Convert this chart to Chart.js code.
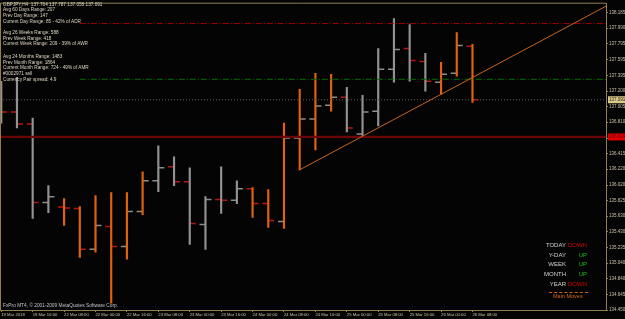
<!DOCTYPE html>
<html>
<head>
<meta charset="utf-8">
<script src="https://cdn.jsdelivr.net/npm/chart.js@4.4.1/dist/chart.umd.min.js"></script>
<style>
body { margin: 0; background: #050405; }
#wrap { position: relative; width: 625px; height: 319px; overflow: hidden; }
.t { position: absolute; font-family: "Liberation Sans", Arial, sans-serif; white-space: nowrap; line-height: 1; }
.info { left: 3px; font-size: 4.7px; color: #ddd6c0; }
.lbl { right: 59px; font-size: 6px; color: #d4d4d4; text-align: right; }
.val { right: 38px; font-size: 6px; text-align: right; }
.dn { color: #d40000; }
.up { color: #10c010; }
</style>
</head>
<body>
<div id="wrap">
  <canvas id="chart" width="625" height="319"></canvas>

  <div class="t info" style="top:2.7px">GBPJPY,H4&nbsp; 137.764 137.787 137.058 137.091</div>
  <div class="t info" style="top:8.2px">Avg 60 Days Range: 207</div>
  <div class="t info" style="top:13.7px">Prev Day Range: 147</div>
  <div class="t info" style="top:19.7px">Current Day Range: 85 - 42% of ADR</div>
  <div class="t info" style="top:30.7px">Avg 26 Weeks Range: 588</div>
  <div class="t info" style="top:36.7px">Prev Week Range: 418</div>
  <div class="t info" style="top:42.2px">Current Week Range: 209 - 39% of AWR</div>
  <div class="t info" style="top:54.7px">Avg 24 Months Range: 1483</div>
  <div class="t info" style="top:60.7px">Prev Month Range: 1864</div>
  <div class="t info" style="top:66.2px">Current Month Range: 724 - 49% of AMR</div>
  <div class="t info" style="top:72.2px">#0002971 sell</div>
  <div class="t info" style="top:78.2px">Currency Pair spread: 4.9</div>

  <div class="t lbl" style="top:242.1px">TODAY</div>
  <div class="t val dn" style="top:242.1px">DOWN</div>
  <div class="t lbl" style="top:251.6px">Y-DAY</div>
  <div class="t val up" style="top:251.6px">UP</div>
  <div class="t lbl" style="top:261.1px">WEEK</div>
  <div class="t val up" style="top:261.1px">UP</div>
  <div class="t lbl" style="top:271.1px">MONTH</div>
  <div class="t val up" style="top:271.1px">UP</div>
  <div class="t lbl" style="top:280.6px">YEAR</div>
  <div class="t val dn" style="top:280.6px">DOWN</div>
  <div style="position:absolute; left:549px; top:292px; width:39px; border-top:1px dashed #c8641e;"></div>
  <div class="t" style="left:553px; top:294.3px; font-size:5.5px; color:#d06818;">Main Moves</div>

  <div class="t" style="left:3px; top:303.7px; font-size:4.8px; color:#c4c4c4;">FxPro MT4, © 2001-2009 MetaQuotes Software Corp.</div>
</div>

<script>
// GBPJPY H4 bars
const timeLabels = ['19 Mar 2018', '19 Mar 16:00', '22 Mar 08:00', '22 Mar 00:00', '22 Mar 16:00', '23 Mar 08:00',
    '23 Mar 00:00', '23 Mar 16:00', '24 Mar 00:00', '24 Mar 08:00', '24 Mar 16:00', '25 Mar 00:00',
    '25 Mar 08:00', '25 Mar 16:00', '26 Mar 00:00', '26 Mar 08:00'];

const barOpen  = [137.100, 136.936, 136.786, 135.799, 135.743, 135.724, 135.212, 135.499, 135.249, 135.687,
                  136.074, 136.249, 136.061, 135.524, 135.837, 135.830, 135.974, 135.787, 135.562, 136.611,
                  136.848, 137.023, 137.123, 136.661, 136.948, 137.473, 137.735, 137.573, 137.311, 137.423, 137.764];
const barHigh  = [137.323, 137.373, 136.861, 136.012, 135.849, 135.749, 135.887, 135.924, 135.924, 136.186,
                  136.511, 136.374, 136.236, 135.874, 136.249, 136.074, 135.987, 135.962, 136.798, 137.223,
                  137.423, 137.411, 137.248, 137.148, 137.735, 138.110, 138.035, 137.673, 137.561, 137.935, 137.787];
const barLow   = [136.798, 136.736, 135.599, 135.674, 135.512, 135.112, 135.175, 134.537, 135.087, 135.649,
                  135.937, 136.012, 135.274, 135.212, 135.662, 135.787, 135.612, 135.487, 135.474, 136.211,
                  136.461, 136.948, 136.686, 136.624, 136.761, 137.311, 137.323, 137.198, 137.161, 137.386, 137.058];
const barClose = [136.936, 136.786, 135.799, 135.874, 135.730, 135.212, 135.512, 135.249, 135.687, 136.074,
                  136.236, 136.061, 135.537, 135.837, 135.830, 135.974, 135.787, 135.574, 136.611, 136.848,
                  137.011, 137.123, 136.736, 136.936, 137.473, 137.723, 137.585, 137.323, 137.411, 137.773, 137.091];
// indicator state per bar (1 = orange bar, 0 = grey bar)
const barTrend = [0, 0, 0, 0, 1, 1, 1, 1, 1, 1, 0, 0, 0, 0, 0, 0, 1, 1, 1, 1, 1, 1, 0, 0, 0, 0, 0, 0, 1, 1, 1];

const priceTicks = [134.450, 134.645, 134.840, 135.040, 135.235, 135.430, 135.630, 135.825, 136.020, 136.220,
                    136.415, 136.610, 136.810, 137.005, 137.200, 137.395, 137.595, 137.795, 137.990, 138.185];

const bidPrice = 137.091;
const supportLevel = 136.624;
const redLevel = 138.048;
const greenLevel = 137.348;
const levelStartBar = 5;
const trendAnchors = [[19, 136.211], [29, 137.265]];

const X_MIN = -0.08, X_MAX = 38.5;
const Y_MIN = 134.450, Y_MAX = 138.2975;

const ORANGE = '#e0620e';
const GREY = '#929292';
const FRAME = '#8f7f52';

Chart.defaults.font.family = '"Liberation Sans", Arial, sans-serif';

const xs = barOpen.map((_, i) => i);

function hLine(price, fromX, color, width, dash) {
    return {
        type: 'line',
        data: [{ x: fromX, y: price }, { x: X_MAX, y: price }],
        borderColor: color,
        borderWidth: width,
        borderDash: dash,
        pointRadius: 0,
        order: 1
    };
}

// trend line from two anchors, extended to the right edge
const slope = (trendAnchors[1][1] - trendAnchors[0][1]) / (trendAnchors[1][0] - trendAnchors[0][0]);
const trendEnd = trendAnchors[0][1] + slope * (X_MAX - trendAnchors[0][0]);

const background = {
    id: 'background',
    beforeDraw(chart) {
        const ctx = chart.ctx;
        ctx.save();
        ctx.fillStyle = '#050405';
        ctx.fillRect(0, 0, chart.width, chart.height);
        ctx.restore();
    }
};

// open tick on the left, close tick on the right
const ohlcTicks = {
    id: 'ohlcTicks',
    beforeDatasetsDraw(chart) {
        const { ctx, scales: { x, y } } = chart;
        ctx.save();
        ctx.lineWidth = 1.5;
        barOpen.forEach((o, i) => {
            const px = x.getPixelForValue(i);
            const c = barClose[i];
            ctx.strokeStyle = c > o ? '#8c8c8c' : '#b41616';
            ctx.beginPath();
            ctx.moveTo(px - 6, y.getPixelForValue(o));
            ctx.lineTo(px, y.getPixelForValue(o));
            ctx.moveTo(px, y.getPixelForValue(c));
            ctx.lineTo(px + 6, y.getPixelForValue(c));
            ctx.stroke();
        });
        ctx.restore();
    }
};

const frameAndLabels = {
    id: 'frameAndLabels',
    afterDraw(chart) {
        const { ctx, chartArea: a, scales: { y } } = chart;
        ctx.save();
        ctx.strokeStyle = FRAME;
        ctx.lineWidth = 1;
        ctx.beginPath();
        ctx.moveTo(a.left + 0.5, a.bottom);
        ctx.lineTo(a.left + 0.5, a.top - 0.5);
        ctx.lineTo(a.right, a.top - 0.5);
        ctx.stroke();

        const box = (price, bg, fg) => {
            const py = y.getPixelForValue(price);
            ctx.fillStyle = bg;
            ctx.fillRect(a.right + 2, py - 3.5, chart.width - a.right - 2, 7);
            ctx.fillStyle = fg;
            ctx.font = '4.5px "Liberation Sans", Arial, sans-serif';
            ctx.textBaseline = 'middle';
            ctx.fillText(price.toFixed(3), a.right + 3, py);
        };
        box(bidPrice, '#d9c98a', '#2a2410');
        box(supportLevel, '#e00000', '#5a0000');
        ctx.restore();
    }
};

const ctx = document.getElementById('chart').getContext('2d');
const chart = new Chart(ctx, {
    type: 'bar',
    data: {
        datasets: [
            {
                type: 'bar',
                data: xs.map(i => ({ x: i, y: [barLow[i], barHigh[i]] })),
                backgroundColor: barTrend.map(t => t ? ORANGE : GREY),
                barThickness: 1.5,
                grouped: false,
                order: 5
            },
            hLine(supportLevel, X_MIN, '#6a0606', 2.2, []),
            hLine(bidPrice, X_MIN, '#5a5a5a', 1, [1, 2]),
            hLine(redLevel, levelStartBar, '#a00000', 1, [6, 2, 1, 2]),
            hLine(greenLevel, levelStartBar, '#007000', 1, [6, 2, 1, 2]),
            {
                type: 'line',
                data: [{ x: trendAnchors[0][0], y: trendAnchors[0][1] }, { x: X_MAX, y: trendEnd }],
                borderColor: '#c8641e',
                borderWidth: 1,
                pointRadius: 0,
                order: 0
            }
        ]
    },
    options: {
        responsive: false,
        animation: false,
        layout: { padding: { top: 2, left: 0, right: 0, bottom: 0 } },
        plugins: {
            legend: { display: false },
            tooltip: { enabled: false }
        },
        scales: {
            x: {
                type: 'linear',
                offset: false,
                min: X_MIN,
                max: X_MAX,
                afterBuildTicks: s => { s.ticks = timeLabels.map((_, k) => ({ value: k * 2 })); },
                afterFit: s => { s.height = 9; },
                grid: { offset: false, drawOnChartArea: false, drawTicks: true, tickLength: 2, color: FRAME },
                border: { display: true, color: FRAME },
                ticks: {
                    autoSkip: false,
                    maxRotation: 0,
                    align: 'start',
                    padding: 0,
                    color: '#c9c2a6',
                    font: { size: 4.2 },
                    callback: (v, i) => timeLabels[i]
                }
            },
            y: {
                position: 'right',
                min: Y_MIN,
                max: Y_MAX,
                afterBuildTicks: s => { s.ticks = priceTicks.map(v => ({ value: v })); },
                afterFit: s => { s.width = 19; },
                grid: { drawOnChartArea: false, drawTicks: true, tickLength: 2, color: FRAME },
                border: { display: true, color: FRAME },
                ticks: {
                    padding: 1,
                    color: '#c9c2a6',
                    font: { size: 4.5 },
                    callback: v => v.toFixed(3)
                }
            }
        }
    },
    plugins: [background, ohlcTicks, frameAndLabels]
});
</script>
</body>
</html>
